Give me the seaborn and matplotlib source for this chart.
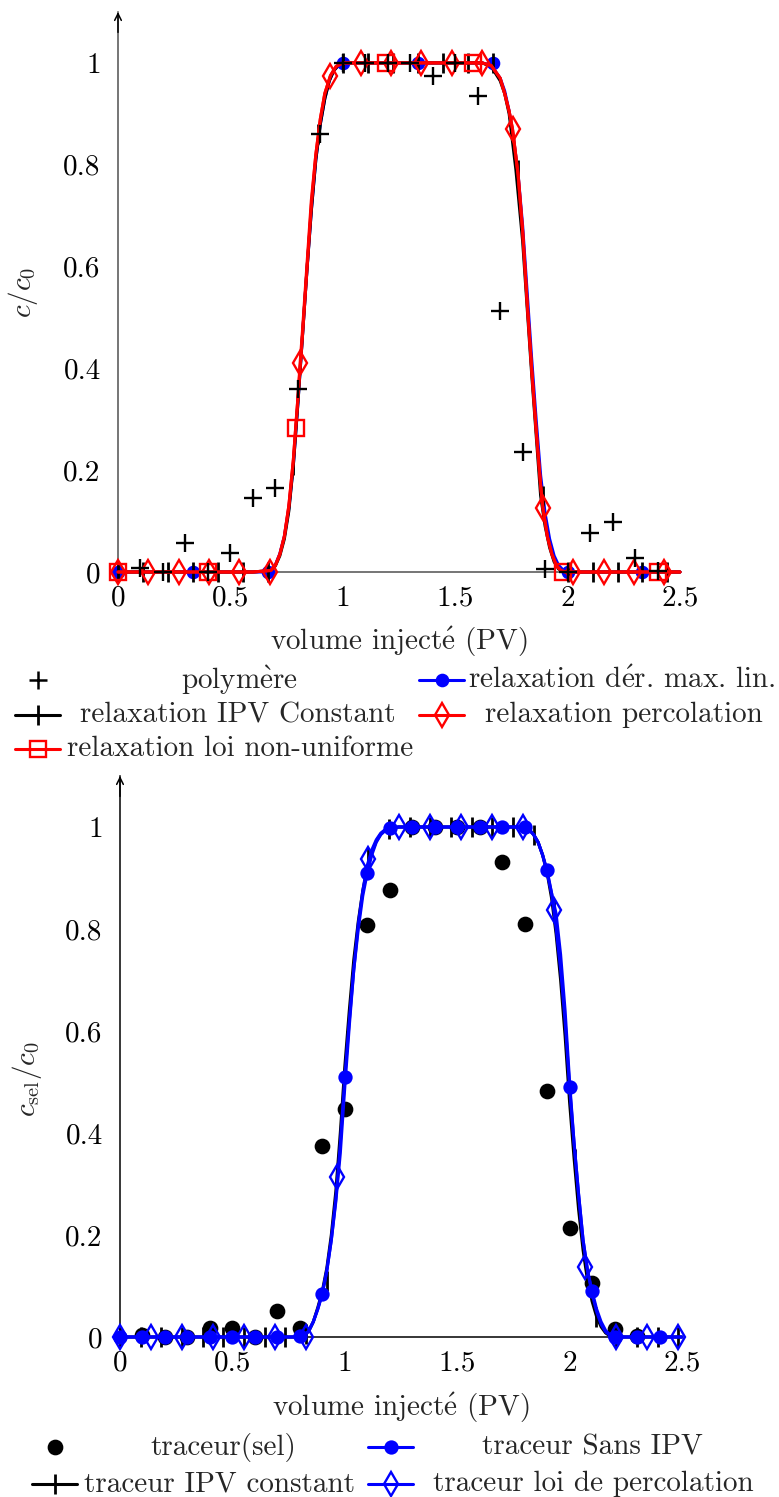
import matplotlib
matplotlib.use("Agg")
import matplotlib.pyplot as plt
import seaborn as sns
from matplotlib.lines import Line2D

# ---------------- top panel: polymer relaxation ----------------
poly_x = [0.1, 0.2, 0.3, 0.4, 0.5, 0.6, 0.7, 0.8, 0.9, 1.0, 1.1, 1.2, 1.3, 1.4,
          1.5, 1.6, 1.7, 1.8, 1.9, 2.0, 2.1, 2.2, 2.3, 2.4]
poly_y = [0.008, 0.0, 0.057, 0.0, 0.037, 0.145, 0.165, 0.36, 0.86, 1.0, 1.0, 1.0,
          1.0, 0.975, 1.0, 0.935, 0.512, 0.236, 0.006, 0.0, 0.076, 0.098, 0.027, 0.002]

# relaxation dér. max. lin. (blue)
lin_x = [0, 0.6, 0.66, 0.68, 0.70, 0.72, 0.74, 0.76, 0.78, 0.80, 0.82, 0.84, 0.86,
         0.88, 0.90, 0.92, 0.94, 0.96, 0.98, 1.0, 1.62, 1.66, 1.70, 1.72, 1.74, 1.76,
         1.78, 1.80, 1.82, 1.84, 1.86, 1.88, 1.90, 1.92, 1.94, 1.96, 1.98, 2.0, 2.5]
lin_y = [0, 0, 0, 0.004, 0.014, 0.036, 0.07, 0.125, 0.21, 0.33, 0.46, 0.59, 0.71,
         0.81, 0.88, 0.93, 0.965, 0.985, 0.995, 1.0, 1.0, 0.995, 0.97, 0.945, 0.905,
         0.85, 0.78, 0.68, 0.55, 0.42, 0.30, 0.19, 0.115, 0.065, 0.032, 0.013, 0.004, 0, 0]
lin_mx = [0, 0.333, 0.667, 1.0, 1.333, 1.667, 2.0, 2.333]
lin_my = [0, 0, 0, 1.0, 1.0, 1.0, 0, 0]

# relaxation IPV Constant (black)
ipv_x = [0, 0.6, 0.68, 0.70, 0.72, 0.74, 0.76, 0.78, 0.80, 0.82, 0.84, 0.86, 0.88,
         0.90, 0.92, 0.94, 0.96, 0.98, 1.0, 1.62, 1.66, 1.70, 1.72, 1.74, 1.77, 1.80,
         1.82, 1.84, 1.86, 1.88, 1.90, 1.92, 1.94, 1.96, 1.98, 2.5]
ipv_y = [0, 0, 0.003, 0.012, 0.032, 0.065, 0.12, 0.21, 0.33, 0.46, 0.59, 0.71, 0.81,
         0.88, 0.93, 0.965, 0.985, 0.995, 1.0, 1.0, 0.993, 0.965, 0.94, 0.9, 0.79,
         0.65, 0.52, 0.39, 0.27, 0.15, 0.09, 0.048, 0.02, 0.006, 0, 0]
ipv_mx = [0, 0.111, 0.222, 0.333, 0.444, 0.556, 0.667, 0.778, 0.889, 1.0, 1.111,
          1.222, 1.333, 1.444, 1.556, 1.667, 1.778, 1.889, 2.0, 2.111, 2.222, 2.333, 2.444]
ipv_my = [0, 0, 0, 0, 0, 0, 0, 0.21, 0.86, 1.0, 1.0, 1.0, 1.0, 1.0, 1.0, 1.0, 0.79,
          0.15, 0, 0, 0, 0, 0]

# relaxation percolation (red, diamonds)
perc_x = [0, 0.6, 0.68, 0.70, 0.72, 0.74, 0.76, 0.78, 0.79, 0.80, 0.81, 0.82, 0.84,
          0.86, 0.88, 0.90, 0.92, 0.945, 0.97, 1.0, 1.62, 1.66, 1.70, 1.72, 1.74, 1.755,
          1.78, 1.80, 1.82, 1.84, 1.86, 1.88, 1.89, 1.91, 1.93, 1.95, 1.97, 1.99, 2.5]
perc_y = [0, 0, 0.003, 0.013, 0.035, 0.07, 0.13, 0.22, 0.28, 0.34, 0.41, 0.47, 0.60,
          0.73, 0.82, 0.89, 0.94, 0.975, 0.993, 1.0, 1.0, 0.995, 0.97, 0.94, 0.905,
          0.87, 0.78, 0.67, 0.53, 0.40, 0.28, 0.17, 0.126, 0.07, 0.035, 0.013, 0.003, 0, 0]
perc_mx = [0, 0.135, 0.27, 0.405, 0.54, 0.675, 0.81, 0.945, 1.08, 1.215, 1.35, 1.485,
           1.62, 1.755, 1.89, 2.025, 2.16, 2.295, 2.43]
perc_my = [0, 0, 0, 0, 0, 0, 0.41, 0.975, 1.0, 1.0, 1.0, 1.0, 1.0, 0.87, 0.126, 0, 0, 0, 0]

# relaxation loi non-uniforme (red, squares)
nonu_x = perc_x
nonu_y = [0, 0, 0.003, 0.013, 0.035, 0.07, 0.13, 0.22, 0.282, 0.34, 0.40, 0.46, 0.59,
          0.72, 0.82, 0.89, 0.94, 0.975, 0.993, 1.0, 1.0, 0.995, 0.97, 0.94, 0.905,
          0.87, 0.78, 0.67, 0.53, 0.40, 0.28, 0.17, 0.126, 0.07, 0.035, 0.013, 0.003, 0, 0]
nonu_mx = [0, 0.4, 0.79, 1.19, 1.58, 1.98, 2.4]
nonu_my = [0, 0, 0.282, 1.0, 1.0, 0, 0]

# ---------------- bottom panel: salt tracer ----------------
sel_x = [0.1, 0.2, 0.3, 0.4, 0.5, 0.6, 0.7, 0.8, 0.9, 1.0, 1.1, 1.2, 1.3, 1.4, 1.5,
         1.6, 1.7, 1.8, 1.9, 2.0, 2.1, 2.2, 2.3]
sel_y = [0.003, 0.0, 0.0, 0.018, 0.018, 0.0, 0.051, 0.018, 0.375, 0.447, 0.808, 0.876,
         1.0, 1.0, 1.0, 1.0, 0.932, 0.809, 0.483, 0.213, 0.105, 0.016, 0.002]

sans_x = [0, 0.80, 0.82, 0.84, 0.86, 0.88, 0.90, 0.92, 0.94, 0.96, 0.98, 1.00, 1.02,
          1.04, 1.06, 1.08, 1.10, 1.12, 1.14, 1.16, 1.18, 1.20, 1.24, 1.80, 1.82, 1.84,
          1.86, 1.88, 1.90, 1.92, 1.94, 1.96, 1.98, 2.00, 2.02, 2.04, 2.06, 2.08, 2.10,
          2.12, 2.14, 2.16, 2.18, 2.20, 2.5]
sans_y = [0, 0, 0.003, 0.012, 0.03, 0.055, 0.085, 0.13, 0.19, 0.27, 0.38, 0.51, 0.62,
          0.72, 0.80, 0.865, 0.91, 0.945, 0.97, 0.985, 0.993, 0.998, 1.0, 1.0, 0.995,
          0.985, 0.97, 0.945, 0.915, 0.87, 0.80, 0.72, 0.62, 0.49, 0.38, 0.28, 0.19,
          0.13, 0.09, 0.055, 0.03, 0.013, 0.004, 0.0, 0.0]
sans_mx = [0, 0.1, 0.2, 0.3, 0.4, 0.5, 0.6, 0.7, 0.8, 0.9, 1.0, 1.1, 1.2, 1.3, 1.4, 1.5,
           1.6, 1.7, 1.8, 1.9, 2.0, 2.1, 2.2, 2.3, 2.4]
sans_my = [0, 0, 0, 0, 0, 0, 0, 0, 0.002, 0.085, 0.51, 0.91, 0.998, 1.0, 1.0, 1.0, 1.0,
           1.0, 1.0, 0.915, 0.49, 0.09, 0.0, 0, 0]

tipv_x = sans_x
tipv_y = [0, 0, 0.003, 0.012, 0.03, 0.058, 0.09, 0.135, 0.2, 0.285, 0.40, 0.53, 0.64,
          0.74, 0.815, 0.875, 0.92, 0.95, 0.972, 0.986, 0.994, 0.998, 1.0, 1.0, 0.995,
          0.985, 0.97, 0.945, 0.91, 0.86, 0.79, 0.70, 0.59, 0.46, 0.35, 0.25, 0.17,
          0.11, 0.07, 0.04, 0.02, 0.008, 0.002, 0.0, 0.0]
tipv_mx = [0, 0.092, 0.184, 0.276, 0.368, 0.46, 0.552, 0.644, 0.736, 0.828, 0.92, 1.012,
           1.104, 1.196, 1.288, 1.38, 1.472, 1.564, 1.656, 1.748, 1.84, 1.932, 2.024,
           2.116, 2.208, 2.3, 2.392, 2.484]
tipv_my = [0, 0, 0, 0, 0, 0, 0, 0, 0, 0.006, 0.11, 0.58, 0.94, 0.997, 1.0, 1.0, 1.0, 1.0,
           1.0, 1.0, 0.985, 0.84, 0.35, 0.04, 0.0, 0, 0, 0]

tperc_x = sans_x
tperc_y = [0, 0, 0.003, 0.012, 0.03, 0.055, 0.085, 0.13, 0.19, 0.265, 0.36, 0.49, 0.61,
           0.72, 0.81, 0.875, 0.925, 0.955, 0.975, 0.988, 0.995, 0.998, 1.0, 1.0, 0.995,
           0.985, 0.97, 0.945, 0.91, 0.87, 0.83, 0.75, 0.64, 0.50, 0.38, 0.28, 0.19,
           0.13, 0.085, 0.05, 0.025, 0.01, 0.003, 0.0, 0.0]
tperc_mx = [0, 0.138, 0.276, 0.414, 0.552, 0.69, 0.828, 0.966, 1.104, 1.242, 1.38,
            1.518, 1.656, 1.794, 1.932, 2.07, 2.208, 2.346, 2.484]
tperc_my = [0, 0, 0, 0, 0, 0, 0.0, 0.313, 0.937, 1.0, 1.0, 1.0, 1.0, 1.0, 0.838, 0.138,
            0, 0, 0]

x_ticks = [0, 0.5, 1, 1.5, 2, 2.5]
x_labels = ["0", "0.5", "1", "1.5", "2", "2.5"]
y_ticks = [0, 0.2, 0.4, 0.6, 0.8, 1]
y_labels = ["0", "0.2", "0.4", "0.6", "0.8", "1"]

# cmr10 has no precomposed accented letters, so build them with mathtext accents
E_ACUTE = r"$\acute{\mathrm{e}}$"
E_GRAVE = r"$\grave{\mathrm{e}}$"
XLABEL = "volume inject" + E_ACUTE + " (PV)"

sns.set_theme(style="white")
plt.rcParams["font.family"] = ["cmr10", "DejaVu Serif"]
plt.rcParams["mathtext.fontset"] = "cm"
plt.rcParams["axes.unicode_minus"] = False

FS = 21
W, H = 779, 1497
BLUE, RED = "#0000ff", "#ff0000"
DIA = 12.5


def curve(ax, x, y, color, lw=2.2, z=2):
    sns.lineplot(x=x, y=y, ax=ax, color=color, lw=lw, sort=False, estimator=None,
                 zorder=z, clip_on=False)


def marks(ax, x, y, color, marker, ms, mew=1.8, fill=False, z=3):
    sns.lineplot(x=x, y=y, ax=ax, color=color, linestyle="", marker=marker,
                 markersize=ms, markeredgewidth=mew, markeredgecolor=color,
                 markerfacecolor=color if fill else "none", sort=False,
                 estimator=None, zorder=z, clip_on=False)


def style_axis(ax, ylabel, spine_col, ylab_xy, xlab_y):
    ax.set_xlim(0, 2.5)
    ax.set_ylim(0, 1.1)
    for s in ["top", "right"]:
        ax.spines[s].set_visible(False)
    for s in ["left", "bottom"]:
        ax.spines[s].set_color(spine_col)
        ax.spines[s].set_linewidth(1.1)
        ax.spines[s].set_zorder(1)
    ax.set_xticks(x_ticks, x_labels)
    ax.set_yticks(y_ticks, y_labels)
    ax.tick_params(direction="inout", length=9, width=0.8, color="#808080",
                   labelsize=FS, pad=5, labelcolor="black")
    ax.tick_params(axis="y", pad=8)
    ax.set_xlabel(XLABEL, fontsize=FS)
    ax.set_ylabel(ylabel, fontsize=FS)
    ax.xaxis.set_label_coords(0.5, xlab_y)
    ax.yaxis.set_label_coords(*ylab_xy)
    ax.annotate("", xy=(0, 1.1), xytext=(0, 1.06), xycoords="data",
                arrowprops=dict(arrowstyle="->", color="black", lw=1.1,
                                shrinkA=0, shrinkB=0), annotation_clip=False)
    ax.grid(False)


def legend_entry(fig, x0, x1, y, color, marker, ms, text, tx, line=True, fill=False, mew=1.8):
    yf = 1 - y / H
    if line:
        fig.add_artist(Line2D([x0 / W, x1 / W], [yf, yf], color=color, lw=2.2,
                              transform=fig.transFigure))
    fig.add_artist(Line2D([(x0 + x1) / 2 / W], [yf], color=color, marker=marker,
                          markersize=ms, markeredgewidth=mew, markeredgecolor=color,
                          markerfacecolor=color if fill else "none", linestyle="",
                          transform=fig.transFigure))
    fig.text(tx / W, yf, text, ha="center", va="center", fontsize=FS)


fig = plt.figure(figsize=(W / 100, H / 100), dpi=100)
ax1 = fig.add_axes([118 / W, 1 - 572 / H, 562 / W, 560 / H])
ax2 = fig.add_axes([120 / W, 1 - 1337 / H, 562 / W, 561 / H])

# top panel
marks(ax1, poly_x, poly_y, "black", "+", 13, mew=1.7, z=6)
curve(ax1, lin_x, lin_y, BLUE, z=2)
marks(ax1, lin_mx, lin_my, BLUE, "o", 8, fill=True, z=3)
curve(ax1, ipv_x, ipv_y, "black", z=2)
marks(ax1, ipv_mx, ipv_my, "black", "|", 15, mew=2.0, z=3)
curve(ax1, perc_x, perc_y, RED, z=4)
marks(ax1, perc_mx, perc_my, RED, "d", DIA, mew=1.7, z=5)
curve(ax1, nonu_x, nonu_y, RED, z=4)
marks(ax1, nonu_mx, nonu_my, RED, "s", 12, mew=1.7, z=5)
style_axis(ax1, "$c/c_0$", "#505050", (-0.139, 0.5), -0.095)

# bottom panel
marks(ax2, sel_x, sel_y, "black", "o", 9.5, fill=True, z=3)
curve(ax2, sans_x, sans_y, BLUE, z=4)
marks(ax2, sans_mx, sans_my, BLUE, "o", 8.5, fill=True, z=5)
curve(ax2, tipv_x, tipv_y, "black", z=2)
marks(ax2, tipv_mx, tipv_my, "black", "|", 15, mew=2.0, z=3)
curve(ax2, tperc_x, tperc_y, BLUE, z=4)
marks(ax2, tperc_mx, tperc_my, BLUE, "d", DIA, mew=1.7, z=5)
style_axis(ax2, r"$c_\mathrm{sel}/c_0$", "black", (-0.135, 0.46), -0.096)

# legends (two columns, centred text as in the original)
legend_entry(fig, 15, 60, 680, "black", "+", 13, "polym" + E_GRAVE + "re", 239, line=False)
legend_entry(fig, 419, 464, 680, BLUE, "o", 8, "relaxation d" + E_ACUTE + "r. max. lin.", 622, fill=True)
legend_entry(fig, 15, 60, 715, "black", "|", 15, "relaxation IPV Constant", 238, mew=2.0)
legend_entry(fig, 419, 464, 715, RED, "d", DIA, "relaxation percolation", 624, mew=1.7)
legend_entry(fig, 15, 60, 749, RED, "s", 12, "relaxation loi non-uniforme", 240, mew=1.7)

legend_entry(fig, 32, 77, 1447, "black", "o", 9.5, "traceur(sel)", 223, line=False, fill=True)
legend_entry(fig, 368, 413, 1447, BLUE, "o", 8.5, "traceur Sans IPV", 592, fill=True)
legend_entry(fig, 32, 77, 1484, "black", "|", 15, "traceur IPV constant", 220, mew=2.0)
legend_entry(fig, 368, 413, 1484, BLUE, "d", DIA, "traceur loi de percolation", 593, mew=1.7)

fig.savefig("out.png", dpi=100)
